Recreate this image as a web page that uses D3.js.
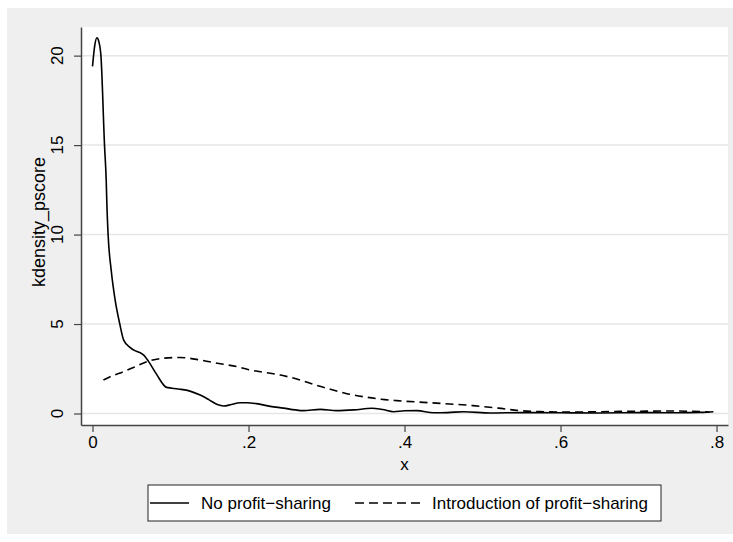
<!DOCTYPE html>
<html>
<head>
<meta charset="utf-8">
<script src="https://cdn.jsdelivr.net/npm/d3@7"></script>
<style>
  body { margin: 0; background: #fff; }
  text { font-family: "Liberation Sans", Arial, sans-serif; fill: #000; }
</style>
</head>
<body>
<div id="chart"></div>
<script>
// kdensity of pscore
const noProfitX = [0, 0.003, 0.0056, 0.008, 0.0108, 0.0154, 0.0176, 0.0185, 0.020, 0.024, 0.029, 0.035, 0.040, 0.048, 0.055, 0.061, 0.066, 0.072, 0.082, 0.095, 0.110, 0.125, 0.138, 0.150, 0.160, 0.168, 0.178, 0.189, 0.198, 0.210, 0.228, 0.245, 0.260, 0.270, 0.292, 0.313, 0.335, 0.358, 0.372, 0.386, 0.400, 0.416, 0.437, 0.455, 0.476, 0.510, 0.550, 0.600, 0.650, 0.700, 0.750, 0.780, 0.796];
const noProfitY = [19.4, 20.6, 21.0, 20.8, 20.0, 15.0, 13.0, 11.6, 10.0, 8.0, 6.35, 5.0, 4.1, 3.7, 3.5, 3.4, 3.25, 2.9, 2.2, 1.46, 1.37, 1.25, 1.03, 0.75, 0.5, 0.42, 0.5, 0.6, 0.6, 0.55, 0.4, 0.3, 0.2, 0.16, 0.23, 0.16, 0.2, 0.29, 0.22, 0.1, 0.15, 0.16, 0.04, 0.05, 0.1, 0.03, 0.05, 0.04, 0.03, 0.05, 0.04, 0.06, 0.1];

const introX = [0.014, 0.025, 0.040, 0.055, 0.070, 0.091, 0.112, 0.138, 0.155, 0.168, 0.189, 0.198, 0.220, 0.241, 0.266, 0.285, 0.305, 0.325, 0.347, 0.370, 0.390, 0.433, 0.488, 0.520, 0.548, 0.580, 0.612, 0.650, 0.677, 0.710, 0.740, 0.770, 0.791];
const introY = [1.87, 2.1, 2.34, 2.62, 2.9, 3.09, 3.13, 2.99, 2.85, 2.75, 2.58, 2.47, 2.3, 2.15, 1.87, 1.6, 1.35, 1.12, 0.94, 0.8, 0.72, 0.6, 0.44, 0.3, 0.16, 0.1, 0.08, 0.1, 0.12, 0.13, 0.14, 0.12, 0.08];

const xTicks = [0, 0.2, 0.4, 0.6, 0.8];
const xTickLabels = ["0", ".2", ".4", ".6", ".8"];
const yTicks = [0, 5, 10, 15, 20];
const seriesNames = ["No profit\u2212sharing", "Introduction of profit\u2212sharing"];

const W = 733, H = 542;
const plot = { left: 81, right: 728, top: 27, bottom: 425 };

const svg = d3.select("#chart").append("svg")
    .attr("width", W)
    .attr("height", H);

// grey graph region
svg.append("rect")
    .attr("x", 7).attr("y", 8)
    .attr("width", W - 7).attr("height", 526)
    .attr("fill", "#efefef");

svg.append("rect")
    .attr("x", plot.left).attr("y", plot.top)
    .attr("width", plot.right - plot.left).attr("height", plot.bottom - plot.top)
    .attr("fill", "#fff");

const x = d3.scaleLinear()
    .domain([-0.01474, 0.8147])
    .range([plot.left, plot.right]);

const y = d3.scaleLinear()
    .domain([-0.643, 21.6])
    .range([plot.bottom, plot.top]);

// grid lines
svg.append("g")
    .selectAll("line")
    .data(yTicks)
    .join("line")
    .attr("x1", plot.left + 1).attr("x2", plot.right)
    .attr("y1", d => y(d)).attr("y2", d => y(d))
    .attr("stroke", "#e6e6e6")
    .attr("stroke-width", 1.5);

const xAxis = d3.axisBottom(x)
    .tickValues(xTicks)
    .tickFormat((d, i) => xTickLabels[i])
    .tickSize(7)
    .tickSizeOuter(0)
    .tickPadding(4);

const gx = svg.append("g")
    .attr("transform", `translate(0, ${plot.bottom})`)
    .call(xAxis);
gx.select(".domain").attr("stroke", "#444").attr("stroke-width", 1.5);
gx.selectAll(".tick line").attr("stroke", "#444").attr("stroke-width", 1.2);
gx.selectAll(".tick text")
    .attr("font-size", 17)
    .attr("font-family", "Liberation Sans, Arial, sans-serif")
    .attr("fill", "#000");

const yAxis = d3.axisLeft(y)
    .tickValues(yTicks)
    .tickFormat("")
    .tickSize(7)
    .tickSizeOuter(0);

const gy = svg.append("g")
    .attr("transform", `translate(${plot.left}, 0)`)
    .call(yAxis);
gy.select(".domain").attr("stroke", "#444").attr("stroke-width", 1.5);
gy.selectAll(".tick line").attr("stroke", "#444").attr("stroke-width", 1.2);
gy.selectAll(".tick text").remove();

// rotated y tick labels, Stata style
svg.append("g")
    .selectAll("text")
    .data(yTicks)
    .join("text")
    .attr("transform", d => `translate(${plot.left - 18}, ${y(d)}) rotate(-90)`)
    .attr("text-anchor", "middle")
    .attr("font-size", 17)
    .text(d => d);

// axis titles
svg.append("text")
    .attr("x", (plot.left + plot.right) / 2)
    .attr("y", 470)
    .attr("text-anchor", "middle")
    .attr("font-size", 17)
    .text("x");

svg.append("text")
    .attr("transform", `translate(45, ${(plot.top + plot.bottom) / 2 - 4}) rotate(-90)`)
    .attr("text-anchor", "middle")
    .attr("font-size", 18)
    .text("kdensity_pscore");

// density lines
const line = d3.line()
    .x(d => x(d[0]))
    .y(d => y(d[1]))
    .curve(d3.curveMonotoneX);

svg.append("path")
    .datum(d3.zip(noProfitX, noProfitY))
    .attr("fill", "none")
    .attr("stroke", "#000")
    .attr("stroke-width", 1.6)
    .attr("d", line);

svg.append("path")
    .datum(d3.zip(introX, introY))
    .attr("fill", "none")
    .attr("stroke", "#000")
    .attr("stroke-width", 1.6)
    .attr("stroke-dasharray", "8,5")
    .attr("d", line);

// legend
const lg = svg.append("g");
lg.append("rect")
    .attr("x", 148).attr("y", 485)
    .attr("width", 513).attr("height", 36)
    .attr("fill", "#fff")
    .attr("stroke", "#222")
    .attr("stroke-width", 1);

const keys = [
    { x1: 150, x2: 189, tx: 201, dash: null },
    { x1: 355, x2: 420, tx: 432, dash: "9,5" }
];
keys.forEach((k, i) => {
    lg.append("line")
        .attr("x1", k.x1).attr("x2", k.x2)
        .attr("y1", 503).attr("y2", 503)
        .attr("stroke", "#000")
        .attr("stroke-width", 1.6)
        .attr("stroke-dasharray", k.dash);
    lg.append("text")
        .attr("x", k.tx).attr("y", 509)
        .attr("font-size", 17)
        .text(seriesNames[i]);
});
</script>
</body>
</html>
